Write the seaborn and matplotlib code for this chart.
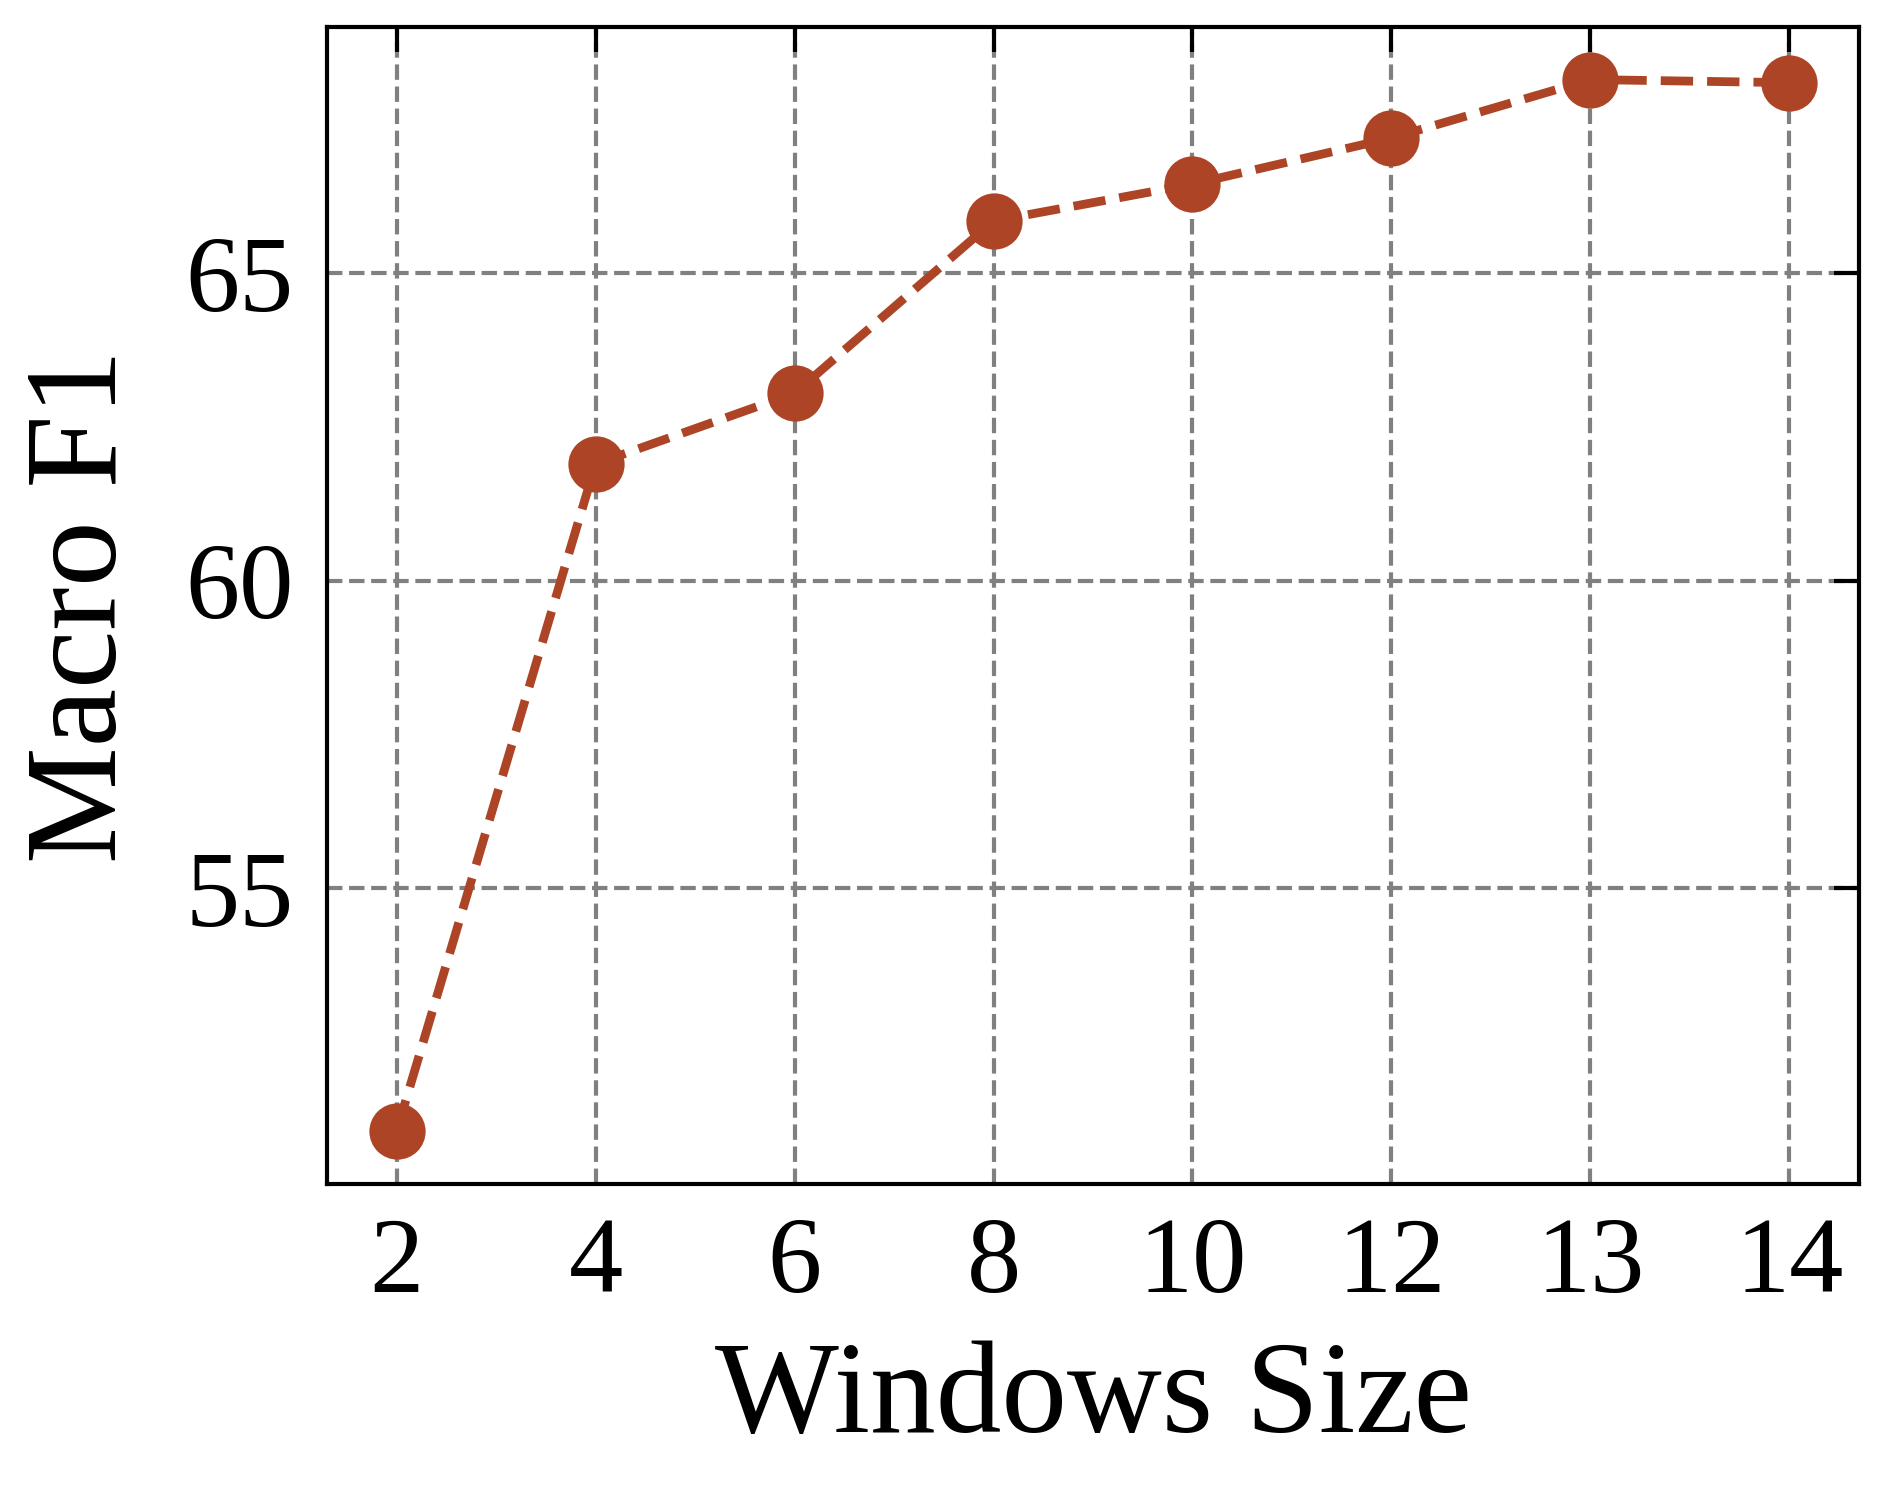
import numpy as np
import pandas as pd
import matplotlib
matplotlib.use("Agg")
import matplotlib.pyplot as plt
import seaborn as sns

window_sizes = ["2", "4", "6", "8", "10", "12", "13", "14"]
macro_f1 = [51.05, 61.9, 63.05, 65.85, 66.45, 67.2, 68.15, 68.1]

sns.set_style("white")
plt.rcParams["font.family"] = ["Liberation Serif", "DejaVu Serif"]
plt.rcParams["text.color"] = "black"
plt.rcParams["axes.labelcolor"] = "black"

df = pd.DataFrame({
    "pos": np.arange(len(window_sizes)),
    "size": window_sizes,
    "f1": macro_f1,
})

fig = plt.figure(figsize=(1892 / 300, 1500 / 300), dpi=300)
ax = fig.add_axes([0.1728, 0.2107, 0.9826 - 0.1728, 0.982 - 0.2107])

sns.lineplot(
    data=df, x="pos", y="f1", ax=ax,
    color="#AE4426", linestyle="--", linewidth=2.1,
    marker="o", markersize=13.5, markeredgewidth=0,
)

ax.set_xticks(df["pos"])
ax.set_xticklabels(window_sizes)
ax.set_yticks([55, 60, 65])
ax.margins(x=0.05, y=0.05)

ax.grid(True, color="#808080", linestyle="--", linewidth=1.0)
ax.set_axisbelow(True)

ax.tick_params(direction="in", length=6, width=1.0, top=True, right=True,
               labelsize=26, colors="black", pad=8)
for s in ax.spines.values():
    s.set_color("black")
    s.set_linewidth(1.0)

ax.set_xlabel("Windows Size", fontsize=31.5, labelpad=6, color="black")
ax.set_ylabel("Macro F1", fontsize=31.5, labelpad=10, color="black")

fig.savefig("out.png", dpi=300)
